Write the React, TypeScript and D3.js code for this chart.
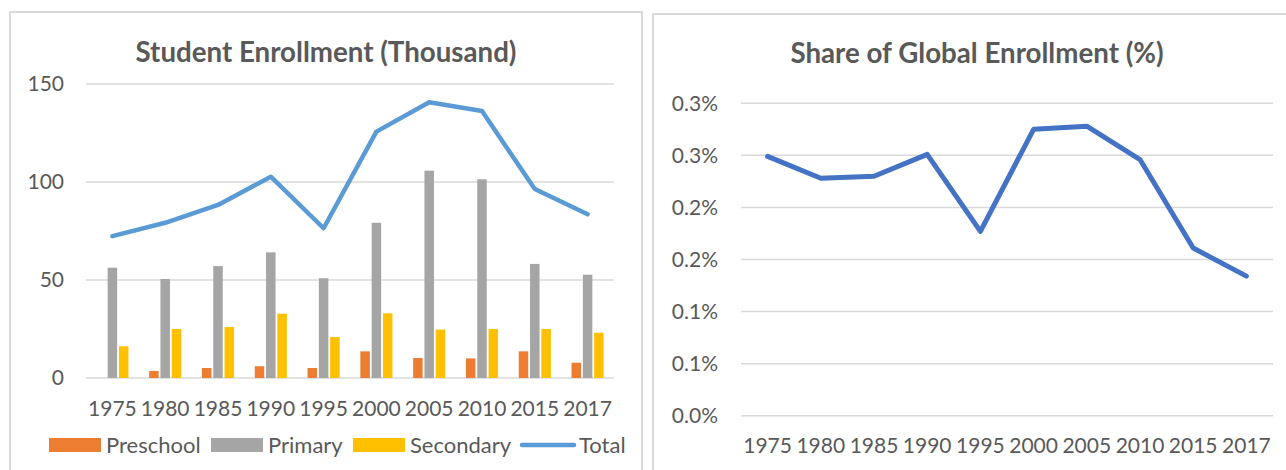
import React, { useRef, useEffect } from 'react';
import * as d3 from 'd3';

const years = ['1975', '1980', '1985', '1990', '1995', '2000', '2005', '2010', '2015', '2017'];
const preschool = [0, 3.6, 5.1, 6.0, 5.1, 13.6, 10.2, 10.0, 13.6, 7.8];
const primary = [56.3, 50.5, 57.1, 64.1, 50.9, 79.2, 105.8, 101.4, 58.2, 52.7];
const secondary = [16.2, 25.0, 26.0, 32.8, 20.9, 33.0, 24.7, 25.0, 25.0, 23.1];
const total = [72.4, 79.2, 88.3, 102.7, 76.4, 125.7, 140.7, 136.2, 96.4, 83.5];
const share = [0.249, 0.228, 0.23, 0.251, 0.177, 0.275, 0.278, 0.246, 0.161, 0.134];
const enrollTicks = [0, 50, 100, 150];
const shareTicks = [0, 0.05, 0.1, 0.15, 0.2, 0.25, 0.3];

const FONT = 'Lato, "Open Sans", sans-serif';
const TEXT = '#595959';
const GRID = '#D9D9D9';
const TICK_SIZE = 21;
const LEGEND_SIZE = 22;
const TITLE_SIZE = 27.7;

const App = () => {
  const svgRef = useRef<SVGSVGElement>(null);

  useEffect(() => {
    const svg = d3.select(svgRef.current);
    svg.selectAll('*').remove(); // Clear existing content

    // panel frames
    svg.append('path')
      .attr('d', 'M10,480 L10,12 L642,12 L642,480')
      .attr('fill', 'none').attr('stroke', GRID).attr('stroke-width', 2);
    svg.append('path')
      .attr('d', 'M653,480 L653,14 L1300,14')
      .attr('fill', 'none').attr('stroke', GRID).attr('stroke-width', 2);

    // ---- left chart: enrollment ----
    const left = svg.append('g');
    const x1 = d3.scaleBand().domain(years).range([86, 614]);
    const y1 = d3.scaleLinear().domain([0, 150]).range([378, 84]);

    left.append('text')
      .attr('x', 326).attr('y', 52).attr('dy', '0.35em')
      .attr('text-anchor', 'middle')
      .attr('font-family', FONT).attr('font-weight', 'bold')
      .attr('font-size', TITLE_SIZE).attr('fill', TEXT)
      .text('Student Enrollment (Thousand)');

    enrollTicks.forEach(t => {
      left.append('line')
        .attr('x1', 86).attr('x2', 614)
        .attr('y1', y1(t)).attr('y2', y1(t))
        .attr('stroke', GRID).attr('stroke-width', 1.5);
      left.append('text')
        .attr('x', 64).attr('y', y1(t)).attr('dy', '0.35em')
        .attr('text-anchor', 'end')
        .attr('font-family', FONT).attr('font-size', TICK_SIZE).attr('fill', TEXT)
        .text(t);
    });

    const barW = 9.5;
    const step = 11.3;
    const series = [
      { name: 'Preschool', values: preschool, color: '#ED7D31' },
      { name: 'Primary', values: primary, color: '#A5A5A5' },
      { name: 'Secondary', values: secondary, color: '#FFC000' },
    ];
    series.forEach((s, si) => {
      left.selectAll(null)
        .data(s.values)
        .enter()
        .append('rect')
        .attr('x', (d, i) => x1(years[i])! + x1.bandwidth() / 2 + (si - 1) * step - barW / 2)
        .attr('y', d => y1(d))
        .attr('width', barW)
        .attr('height', d => y1(0) - y1(d))
        .attr('fill', s.color);
    });

    const line1 = d3.line<number>()
      .x((d, i) => x1(years[i])! + x1.bandwidth() / 2)
      .y(d => y1(d));
    left.append('path')
      .datum(total)
      .attr('d', line1)
      .attr('fill', 'none')
      .attr('stroke', '#5B9BD5')
      .attr('stroke-width', 4.5)
      .attr('stroke-linecap', 'round')
      .attr('stroke-linejoin', 'round');

    years.forEach(yr => {
      left.append('text')
        .attr('x', x1(yr)! + x1.bandwidth() / 2).attr('y', 409).attr('dy', '0.35em')
        .attr('text-anchor', 'middle')
        .attr('font-family', FONT).attr('font-size', TICK_SIZE).attr('fill', TEXT)
        .text(yr);
    });

    // legend
    const legend = [
      { name: 'Preschool', color: '#ED7D31', x: 49, tx: 106, type: 'rect' },
      { name: 'Primary', color: '#A5A5A5', x: 211, tx: 268, type: 'rect' },
      { name: 'Secondary', color: '#FFC000', x: 353, tx: 410, type: 'rect' },
      { name: 'Total', color: '#5B9BD5', x: 522, tx: 579, type: 'line' },
    ];
    legend.forEach(l => {
      if (l.type === 'rect') {
        left.append('rect')
          .attr('x', l.x).attr('y', 438).attr('width', 52).attr('height', 14)
          .attr('fill', l.color);
      } else {
        left.append('line')
          .attr('x1', l.x).attr('x2', l.x + 52).attr('y1', 445).attr('y2', 445)
          .attr('stroke', l.color).attr('stroke-width', 4.5).attr('stroke-linecap', 'round');
      }
      left.append('text')
        .attr('x', l.tx).attr('y', 445).attr('dy', '0.35em')
        .attr('font-family', FONT).attr('font-size', LEGEND_SIZE).attr('fill', TEXT)
        .text(l.name);
    });

    // ---- right chart: share ----
    const right = svg.append('g');
    const x2 = d3.scalePoint().domain(years).range([767.6, 1246.4]);
    const y2 = d3.scaleLinear().domain([0, 0.3]).range([415.7, 103.3]);

    right.append('text')
      .attr('x', 977).attr('y', 53).attr('dy', '0.35em')
      .attr('text-anchor', 'middle')
      .attr('font-family', FONT).attr('font-weight', 'bold')
      .attr('font-size', TITLE_SIZE).attr('fill', TEXT)
      .text('Share of Global Enrollment (%)');

    shareTicks.forEach(t => {
      right.append('line')
        .attr('x1', 741).attr('x2', 1273)
        .attr('y1', y2(t)).attr('y2', y2(t))
        .attr('stroke', GRID).attr('stroke-width', 1.5);
      right.append('text')
        .attr('x', 718).attr('y', y2(t)).attr('dy', '0.35em')
        .attr('text-anchor', 'end')
        .attr('font-family', FONT).attr('font-size', TICK_SIZE).attr('fill', TEXT)
        .text(d3.format('.1f')(Math.round(t * 10 + 1e-9) / 10) + '%');
    });

    const line2 = d3.line<number>()
      .x((d, i) => x2(years[i])!)
      .y(d => y2(d));
    right.append('path')
      .datum(share)
      .attr('d', line2)
      .attr('fill', 'none')
      .attr('stroke', '#4472C4')
      .attr('stroke-width', 5)
      .attr('stroke-linecap', 'round')
      .attr('stroke-linejoin', 'round');

    years.forEach(yr => {
      right.append('text')
        .attr('x', x2(yr)!).attr('y', 446).attr('dy', '0.35em')
        .attr('text-anchor', 'middle')
        .attr('font-family', FONT).attr('font-size', TICK_SIZE).attr('fill', TEXT)
        .text(yr);
    });
  }, []);

  return (
    <svg ref={svgRef} width={1286} height={470}
      style={{ position: 'absolute', left: 0, top: 0, background: '#fff' }} />
  );
};

export default App;
